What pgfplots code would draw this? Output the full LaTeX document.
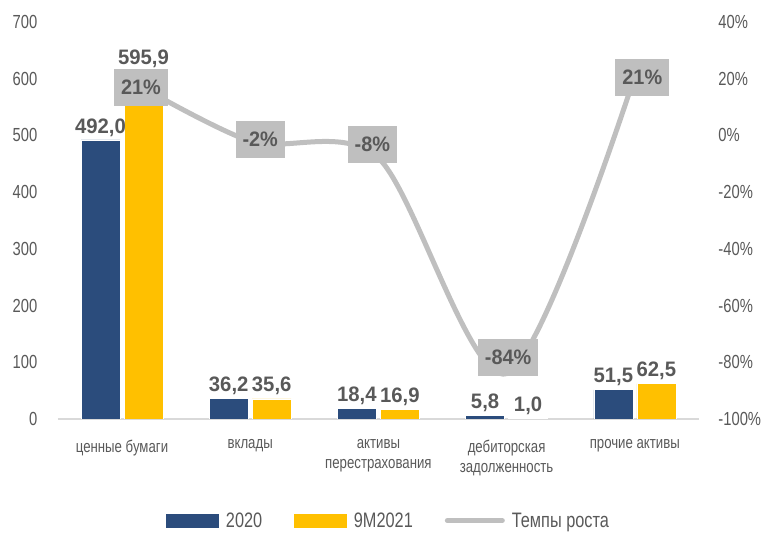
\documentclass[border=0pt]{standalone}
\usepackage{fontspec}
\setmainfont{Liberation Sans}[FakeStretch=0.78]
\newfontfamily\labfont{Liberation Sans}[FakeStretch=0.97]
\newfontfamily\pctfont{Liberation Sans}[FakeStretch=0.95]
\usepackage{pgfplots}
\usepackage{pgfplotstable}
\pgfplotsset{compat=1.18}
\definecolor{cblue}{RGB}{43,76,124}
\definecolor{cgold}{RGB}{255,192,0}
\definecolor{cgray}{RGB}{191,191,191}
\definecolor{ctxt}{RGB}{89,89,89}
\definecolor{caxis}{RGB}{217,217,217}

\pgfplotstableread{
x a b dya dyb
0 492.0 595.9 0 10
1 36.2 35.6 0 0
2 18.4 16.9 0 0
3 5.8 1.0 0 0
4 51.5 62.5 0 0
}\bars
\pgfplotstableread{
x g dx dy
0 21 19 -11.5
1 -2 10 2
2 -8 -6 14
3 -84 1.5 16
4 21 7.5 -1.5
}\growth

\pgfplotsset{/pgf/number format/assume math mode=true}

\begin{document}
\begin{tikzpicture}
\path[use as bounding box] (0,0) rectangle (766bp,533bp);
\begin{axis}[
  at={(57.9bp,114bp)}, anchor=south west,
  scale only axis, width=641bp, height=397bp,
  xmin=-0.5, xmax=4.5, ymin=0, ymax=700,
  enlarge x limits=false, enlarge y limits=false,
  ybar=4bp, bar width=39bp,
  axis x line*=bottom, axis y line*=left,
  x axis line style={draw=caxis, line width=1.2bp, -},
  y axis line style={draw=none},
  ytick={0,100,...,700},
  xtick={0,...,4},
  xticklabels={ценные бумаги, вклады, {активы\\перестрахования}, {дебиторская\\задолженность}, прочие активы},
  xticklabel style={font=\fontsize{17}{20}\selectfont, text=ctxt, align=center, anchor=north, yshift=-13bp},
  yticklabel style={font=\fontsize{19}{22}\selectfont, text=ctxt, xshift=-17bp},
  major tick style={draw=none},
  nodes near coords={\pgfmathprintnumber[fixed,fixed zerofill,precision=1,use comma]{\pgfplotspointmeta}},
  every node near coord/.append style={text=ctxt, inner xsep=0.5bp, font=\labfont\bfseries\fontsize{21}{24}\selectfont},
  legend style={at={(0.516,-0.256)}, anchor=center, draw=none, fill=none,
    font=\fontsize{21}{24}\selectfont, text=ctxt, legend columns=-1,
    /tikz/every odd column/.append style={column sep=5bp},
    /tikz/every even column/.append style={column sep=30bp}},
]
\addplot[fill=cblue, draw=white, line width=0.6bp,
  visualization depends on={\thisrow{dya} \as \mydy},
  every node near coord/.append style={yshift=\mydy bp},
  legend image code/.code={\fill[cblue] (0bp,-6.5bp) rectangle (52bp,6.5bp);}]
  table[x=x, y=a]{\bars};
\addlegendentry{2020}
\addplot[fill=cgold, draw=white, line width=0.6bp,
  visualization depends on={\thisrow{dyb} \as \mydy},
  every node near coord/.append style={yshift=\mydy bp},
  legend image code/.code={\fill[cgold] (0bp,-6.5bp) rectangle (52bp,6.5bp);}]
  table[x=x, y=b]{\bars};
\addlegendentry{9M2021}
\addlegendimage{legend image code/.code={\draw[cgray, line width=5bp, line cap=round] (0bp,0bp) -- (55bp,0bp);}}
\addlegendentry{Темпы роста}
\end{axis}

\begin{axis}[
  at={(57.9bp,114bp)}, anchor=south west,
  scale only axis, width=641bp, height=397bp,
  xmin=-0.5, xmax=4.5, ymin=-100, ymax=40,
  enlarge x limits=false, enlarge y limits=false,
  axis x line=none, axis y line*=right,
  y axis line style={draw=none},
  xtick=\empty,
  ytick={-100,-80,...,40},
  yticklabel={\pgfmathprintnumber{\tick}\%},
  yticklabel style={font=\fontsize{19}{22}\selectfont, text=ctxt, xshift=16bp},
  major tick style={draw=none},
]
\addplot[cgray, line width=5bp, smooth, tension=0.5,
  point meta=explicit,
  nodes near coords={\pgfmathprintnumber{\pgfplotspointmeta}\%},
  visualization depends on={\thisrow{dx} \as \mydx},
  visualization depends on={\thisrow{dy} \as \mydy},
  every node near coord/.append style={anchor=center, fill=cgray, text=ctxt,
    font=\pctfont\bfseries\fontsize{21}{24}\selectfont, minimum height=37bp,
    inner xsep=7bp, xshift=\mydx bp, yshift=\mydy bp}]
  table[x=x, y=g, meta=g]{\growth};
\end{axis}
\end{tikzpicture}
\end{document}
